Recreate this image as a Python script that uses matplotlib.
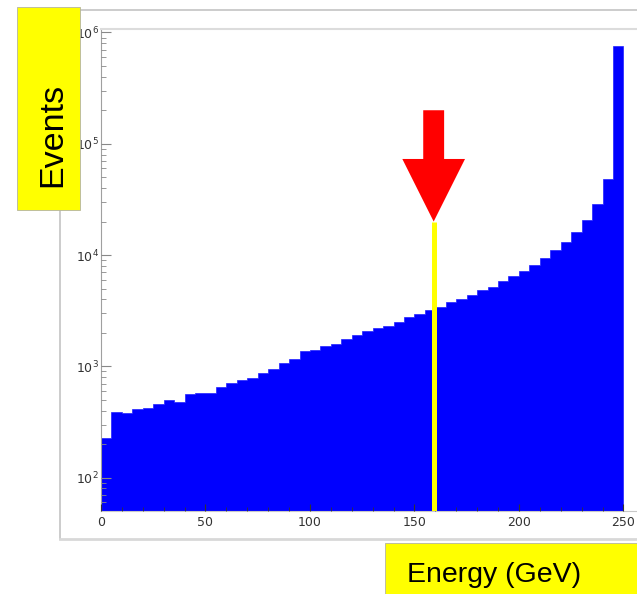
"""Energy spectrum of events with a cut marker, log scale."""

import matplotlib
matplotlib.use('Agg')
import matplotlib.pyplot as plt
from matplotlib.patches import Rectangle, Polygon
from matplotlib.lines import Line2D
from matplotlib.ticker import MultipleLocator, LogLocator, FixedLocator

W, H = 637, 594

BIN_WIDTH = 5
BIN_EDGES = list(range(0, 250 + BIN_WIDTH, BIN_WIDTH))
COUNTS = [226, 389, 381, 411, 423, 459, 499, 482, 565, 573,
          580, 653, 705, 750, 791, 877, 942, 1066, 1165, 1383,
          1402, 1524, 1600, 1751, 1926, 2080, 2228, 2320, 2523, 2800,
          2958, 3215, 3439, 3789, 4058, 4352, 4830, 5139, 5852, 6534,
          7150, 8205, 9358, 11040, 13120, 16140, 20670, 28560, 48300, 757000]

X_TICKS = [0, 50, 100, 150, 200, 250]
Y_EXPONENTS = [2, 3, 4, 5, 6]

CUT = 159.2          # position of the yellow cut line (GeV)
CUT_TOP = 2.0e4      # height where the line stops / arrow tip
ARROW_TOP = 2.0e5
ARROW_HEAD_BASE = 7.3e4
ARROW_SHAFT_HALF = 5.0
ARROW_HEAD_HALF = 15.0


def px(x, y):
    """Pixel position (from top left) to figure fraction."""
    return x / W, 1 - y / H


def make_plot():
    fig = plt.figure(figsize=(W / 100, H / 100), dpi=100)
    left, top = px(101, 29)
    right, bottom = px(637, 510.5)
    ax = fig.add_axes([left, bottom, right - left, top - bottom])

    ax.set_yscale('log')
    ax.stairs(COUNTS, BIN_EDGES, fill=True, baseline=1,
              color='#0000ff', edgecolor='#2020ff', lw=0.5, zorder=1)
    ax.set_xlim(0, 256.5)
    ax.set_ylim(50.7, 1.074e6)

    # cut line and arrow
    ax.plot([CUT, CUT], [10, CUT_TOP], color='#ffff00', lw=3.6,
            solid_capstyle='butt', zorder=3)
    arrow = [(CUT - ARROW_SHAFT_HALF, ARROW_TOP),
             (CUT + ARROW_SHAFT_HALF, ARROW_TOP),
             (CUT + ARROW_SHAFT_HALF, ARROW_HEAD_BASE),
             (CUT + ARROW_HEAD_HALF, ARROW_HEAD_BASE),
             (CUT, CUT_TOP),
             (CUT - ARROW_HEAD_HALF, ARROW_HEAD_BASE),
             (CUT - ARROW_SHAFT_HALF, ARROW_HEAD_BASE)]
    ax.add_patch(Polygon(arrow, closed=True, color='#ff0000', lw=0,
                         zorder=4))

    # axes styling
    ax.spines['right'].set_visible(False)
    ax.spines['top'].set_color('#dcdcdc')
    ax.spines['top'].set_linewidth(1.5)
    ax.spines['left'].set_color('#a0a0a0')
    ax.spines['bottom'].set_color('#c8c8c8')
    ax.set_axisbelow(False)

    ax.xaxis.set_major_locator(FixedLocator(X_TICKS))
    ax.xaxis.set_minor_locator(MultipleLocator(10))
    ax.set_xticklabels([str(t) for t in X_TICKS])
    ax.yaxis.set_major_locator(FixedLocator([10.0 ** e for e in Y_EXPONENTS]))
    ax.yaxis.set_minor_locator(LogLocator(base=10, subs=range(2, 10)))
    ax.set_yticklabels([r'$10^{%d}$' % e for e in Y_EXPONENTS])

    ax.tick_params(axis='both', which='both', direction='in',
                   colors='#333333', labelsize=9, top=False, right=False)
    ax.tick_params(axis='x', which='major', length=5, width=0.8, pad=4)
    ax.tick_params(axis='x', which='minor', length=3, width=0.6)
    ax.tick_params(axis='y', which='major', length=7.5, width=0.8, pad=1.5,
                   color='#888888')
    ax.tick_params(axis='y', which='minor', length=3.6, width=0.6,
                   color='#888888')

    # grey slide frame
    frame = dict(color='#c8c8c8', lw=1.3, transform=fig.transFigure)
    fig.add_artist(Line2D(*zip(px(80, 9.5), px(637, 9.5)), **frame))
    fig.add_artist(Line2D(*zip(px(59.5, 210), px(59.5, 538.5)), **frame))
    fig.add_artist(Line2D(*zip(px(59.5, 538.5), px(637, 538.5)),
                          color='#d8d8d8', lw=2, transform=fig.transFigure))

    # yellow label boxes
    x0, y0 = px(17, 210)
    x1, y1 = px(80, 7)
    fig.add_artist(Rectangle((x0, y0), x1 - x0, y1 - y0,
                             transform=fig.transFigure, facecolor='#ffff00',
                             edgecolor='#b4b4a0', lw=0.6, zorder=5))
    tx, ty = px(61.5, 135)
    fig.text(tx, ty, 'Events', rotation=90, rotation_mode='anchor',
             ha='center', va='baseline', fontsize=24.5,
             family='Liberation Sans', color='black', zorder=6)

    x0, y0 = px(385, 600)
    x1, y1 = px(640, 543.3)
    fig.add_artist(Rectangle((x0, y0), x1 - x0, y1 - y0,
                             transform=fig.transFigure, facecolor='#ffff00',
                             edgecolor='#b4b4a0', lw=0.6, zorder=5))
    tx, ty = px(407, 581.5)
    fig.text(tx, ty, 'Energy (GeV)', ha='left', va='baseline',
             fontsize=20.5, family='Liberation Sans', color='black',
             zorder=6)

    fig.savefig('out.png', dpi=100)


if __name__ == '__main__':
    make_plot()
